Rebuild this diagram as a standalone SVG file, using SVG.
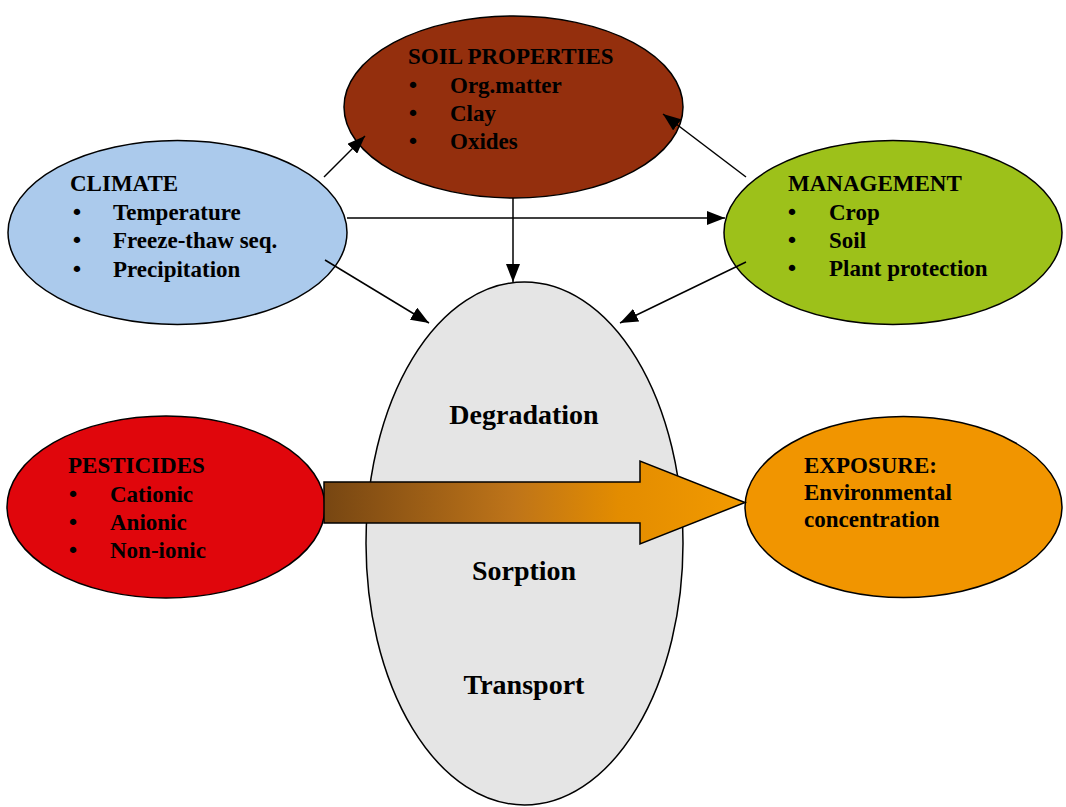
<svg xmlns="http://www.w3.org/2000/svg" width="1066" height="807" viewBox="0 0 1066 807">
<style>
.t{font-family:"Liberation Serif","Times New Roman",serif;font-weight:bold;font-size:23px;fill:#000}
.b{font-family:"DejaVu Sans",sans-serif;font-size:22px;fill:#000;text-anchor:middle}
.c{font-family:"Liberation Serif","Times New Roman",serif;font-weight:bold;font-size:28px;fill:#000;text-anchor:middle}
.n{stroke:#000;stroke-width:1.5}
.e{stroke:#000;stroke-width:1.5;fill:none;marker-end:url(#ah)}
</style>
<defs>
<marker id="ah" markerUnits="userSpaceOnUse" markerWidth="18" markerHeight="14" refX="18" refY="7" orient="auto">
<path d="M0,0 L18,7 L0,14 z" fill="#000"/>
</marker>
<linearGradient id="g" gradientUnits="userSpaceOnUse" x1="324" y1="0" x2="745" y2="0">
<stop offset="0" stop-color="#774612"/>
<stop offset="0.45" stop-color="#BE7419"/>
<stop offset="0.7" stop-color="#E38C00"/>
<stop offset="1" stop-color="#F29A00"/>
</linearGradient>
</defs>
<rect width="1066" height="807" fill="#fff"/>
<g id="center">
<ellipse class="n" cx="524.5" cy="543.5" rx="158.5" ry="261.5" fill="#E5E5E5"/>
<text class="c" x="524" y="424">Degradation</text>
<text class="c" x="524" y="580">Sorption</text>
<text class="c" x="524" y="694">Transport</text>
</g>
<g id="soil">
<ellipse class="n" cx="513.5" cy="107" rx="169.5" ry="91" fill="#942F0D"/>
<text class="t" x="408" y="64">SOIL PROPERTIES</text>
<text class="b" x="413" y="93">•</text><text class="t" x="450" y="93">Org.matter</text>
<text class="b" x="413" y="121">•</text><text class="t" x="450" y="121">Clay</text>
<text class="b" x="413" y="149">•</text><text class="t" x="450" y="149">Oxides</text>
</g>
<g id="climate">
<ellipse class="n" cx="177.5" cy="232.5" rx="169.5" ry="92" fill="#ABCAEC"/>
<text class="t" x="70" y="191">CLIMATE</text>
<text class="b" x="77" y="220">•</text><text class="t" x="113" y="220">Temperature</text>
<text class="b" x="77" y="248">•</text><text class="t" x="113" y="248">Freeze-thaw seq.</text>
<text class="b" x="77" y="277">•</text><text class="t" x="113" y="277">Precipitation</text>
</g>
<g id="management">
<ellipse class="n" cx="893" cy="232.5" rx="169" ry="92" fill="#9DC11A"/>
<text class="t" x="788" y="191">MANAGEMENT</text>
<text class="b" x="792" y="220">•</text><text class="t" x="829" y="220">Crop</text>
<text class="b" x="792" y="248">•</text><text class="t" x="829" y="248">Soil</text>
<text class="b" x="792" y="276">•</text><text class="t" x="829" y="276">Plant protection</text>
</g>
<g id="pesticides">
<ellipse class="n" cx="166" cy="507" rx="159" ry="91" fill="#E0060C"/>
<text class="t" x="68" y="473">PESTICIDES</text>
<text class="b" x="73" y="502">•</text><text class="t" x="110" y="502">Cationic</text>
<text class="b" x="73" y="530">•</text><text class="t" x="110" y="530">Anionic</text>
<text class="b" x="73" y="558">•</text><text class="t" x="110" y="558">Non-ionic</text>
</g>
<g id="exposure">
<ellipse class="n" cx="903.5" cy="507" rx="158.5" ry="90.5" fill="#F19500"/>
<text class="t" x="804" y="473">EXPOSURE:</text>
<text class="t" x="804" y="500">Environmental</text>
<text class="t" x="804" y="527">concentration</text>
</g>
<g id="flow-arrow">
<path d="M324,482 L640,482 L640,461 L745,502.5 L640,544 L640,523 L324,523 Z" fill="url(#g)" stroke="#000" stroke-width="1.5" stroke-linejoin="miter"/>
</g>
<g id="connectors">
<line class="e" x1="324" y1="177" x2="365" y2="136"/>
<line class="e" x1="746" y1="177" x2="663" y2="114"/>
<line class="e" x1="347" y1="218" x2="725" y2="218"/>
<line class="e" x1="513" y1="198" x2="513" y2="282"/>
<line class="e" x1="325" y1="260" x2="429" y2="323"/>
<line class="e" x1="746" y1="262" x2="620" y2="323"/>
</g>
</svg>
